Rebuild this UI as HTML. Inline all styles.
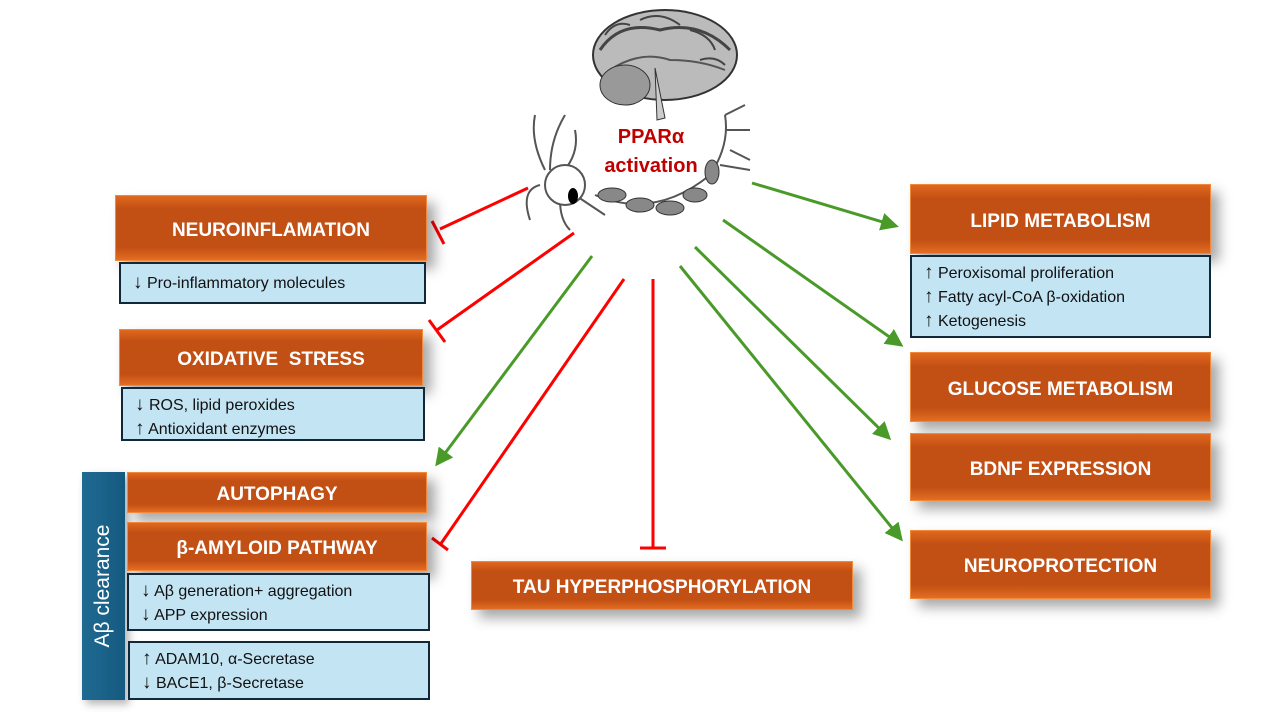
<!DOCTYPE html>
<html><head><meta charset="utf-8"><style>
body{margin:0;width:1280px;height:720px;background:#fff;position:relative;overflow:hidden;font-family:"Liberation Sans",sans-serif}
.o{position:absolute;background:linear-gradient(#e0681e,#c24f14 20%,#c24f14 80%,#e36d22);color:#fff;font-weight:bold;font-size:19px;display:flex;align-items:center;justify-content:center;box-shadow:8px 8px 12px rgba(0,0,0,.35);border:1px solid #f08a3a;box-sizing:border-box;padding-top:5px}
.b{position:absolute;background:#c3e4f3;border:2px solid #102838;box-sizing:border-box;font-size:16px;color:#111;padding:4px 0 0 12px;line-height:23px}
.b span{font-size:19px}
svg{position:absolute;left:0;top:0}
</style></head><body>
<svg width="1280" height="720">
<defs><marker id="g" markerWidth="6" markerHeight="6" refX="5" refY="3" orient="auto" markerUnits="strokeWidth"><path d="M0,0 L6,3 L0,6 Z" fill="#4a9a2a"/></marker></defs>
<!-- brain -->
<ellipse cx="665" cy="55" rx="72" ry="45" fill="#bbb" stroke="#333" stroke-width="2"/>
<path d="M600,50 q20,-30 60,-20 q40,-10 70,20" stroke="#444" fill="none" stroke-width="3"/>
<path d="M605,35 q10,-15 25,-10 M640,20 q20,-10 40,5 M690,30 q20,5 25,20 M700,60 q15,-5 25,5" stroke="#444" fill="none" stroke-width="2"/>
<path d="M610,70 q30,-20 60,-10 q30,0 55,10" stroke="#555" fill="none" stroke-width="2"/>
<ellipse cx="625" cy="85" rx="25" ry="20" fill="#999" stroke="#333"/>
<path d="M655,68 l10,50 l-8,2 z" fill="#ccc" stroke="#333"/>
<!-- neuron -->
<path d="M545,170 q-15,-30 -10,-55 M550,170 q0,-30 15,-55 M560,175 q20,-20 15,-45 M540,185 q-20,5 -10,35 M560,200 q0,20 10,30 M575,195 l30,20" stroke="#555" fill="none" stroke-width="2"/>
<ellipse cx="565" cy="185" rx="20" ry="20" fill="#fff" stroke="#555" stroke-width="2"/>
<ellipse cx="573" cy="196" rx="5" ry="8" fill="#000"/>
<path d="M595,195 q60,25 115,-20 q20,-30 15,-60" stroke="#555" fill="none" stroke-width="2"/>
<g fill="#888" stroke="#333">
<ellipse cx="612" cy="195" rx="14" ry="7"/><ellipse cx="640" cy="205" rx="14" ry="7"/><ellipse cx="670" cy="208" rx="14" ry="7"/><ellipse cx="695" cy="195" rx="12" ry="7"/><ellipse cx="712" cy="172" rx="7" ry="12"/>
</g>
<path d="M725,115 l20,-10 M725,130 l25,0 M730,150 l20,10 M720,165 l30,5" stroke="#555" stroke-width="2"/>
<!-- red lines -->
<g stroke="#f00" stroke-width="3" fill="none">
<line x1="528" y1="188" x2="440" y2="229"/><line x1="432" y1="221" x2="444" y2="244"/>
<line x1="574" y1="233" x2="437" y2="330"/><line x1="429" y1="320" x2="445" y2="342"/>
<line x1="624" y1="279" x2="440" y2="545"/><line x1="432" y1="538" x2="448" y2="550"/>
<line x1="653" y1="279" x2="653" y2="548"/><line x1="640" y1="548" x2="666" y2="548"/>
</g>
<g stroke="#4a9a2a" stroke-width="3" fill="none" marker-end="url(#g)">
<line x1="752" y1="183" x2="896" y2="226"/>
<line x1="723" y1="220" x2="901" y2="345"/>
<line x1="695" y1="247" x2="889" y2="438"/>
<line x1="680" y1="266" x2="901" y2="539"/>
<line x1="592" y1="256" x2="437" y2="464"/>
</g>
<text x="651" y="143" fill="#c00000" font-weight="bold" font-size="20" text-anchor="middle" font-family="Liberation Sans">PPARα</text>
<text x="651" y="172" fill="#c00000" font-weight="bold" font-size="20" text-anchor="middle" font-family="Liberation Sans">activation</text>
</svg>
<div class="o" style="left:115px;top:195px;width:312px;height:66px">NEUROINFLAMATION</div>
<div class="b" style="left:119px;top:262px;width:307px;height:42px;padding-top:7px"><span>↓</span> Pro-inflammatory molecules</div>
<div class="o" style="left:119px;top:329px;width:304px;height:57px">OXIDATIVE&nbsp; STRESS</div>
<div class="b" style="left:121px;top:387px;width:304px;height:54px"><span>↓</span> ROS, lipid peroxides<br><span>↑</span> Antioxidant enzymes</div>
<div style="position:absolute;left:82px;top:472px;width:43px;height:228px;background:linear-gradient(90deg,#1f6a92,#155a80);box-shadow:4px 4px 8px rgba(0,0,0,.3)"><div style="position:absolute;left:21px;top:114px;transform:translate(-50%,-50%) rotate(-90deg);color:#fff;font-size:21px;white-space:nowrap">Aβ clearance</div></div>
<div class="o" style="left:127px;top:472px;width:300px;height:41px">AUTOPHAGY</div>
<div class="o" style="left:127px;top:522px;width:300px;height:49px">β-AMYLOID PATHWAY</div>
<div class="b" style="left:127px;top:573px;width:303px;height:58px"><span>↓</span> Aβ generation+ aggregation<br><span>↓</span> APP expression</div>
<div class="b" style="left:128px;top:641px;width:302px;height:59px"><span>↑</span> ADAM10, α-Secretase<br><span>↓</span> BACE1, β-Secretase</div>
<div class="o" style="left:471px;top:561px;width:382px;height:49px">TAU HYPERPHOSPHORYLATION</div>
<div class="o" style="left:910px;top:184px;width:301px;height:70px">LIPID METABOLISM</div>
<div class="b" style="left:910px;top:255px;width:301px;height:83px"><span>↑</span> Peroxisomal proliferation<br><span>↑</span> Fatty acyl-CoA β-oxidation<br><span>↑</span> Ketogenesis</div>
<div class="o" style="left:910px;top:352px;width:301px;height:70px">GLUCOSE METABOLISM</div>
<div class="o" style="left:910px;top:433px;width:301px;height:68px">BDNF EXPRESSION</div>
<div class="o" style="left:910px;top:530px;width:301px;height:69px">NEUROPROTECTION</div>
</body></html>
